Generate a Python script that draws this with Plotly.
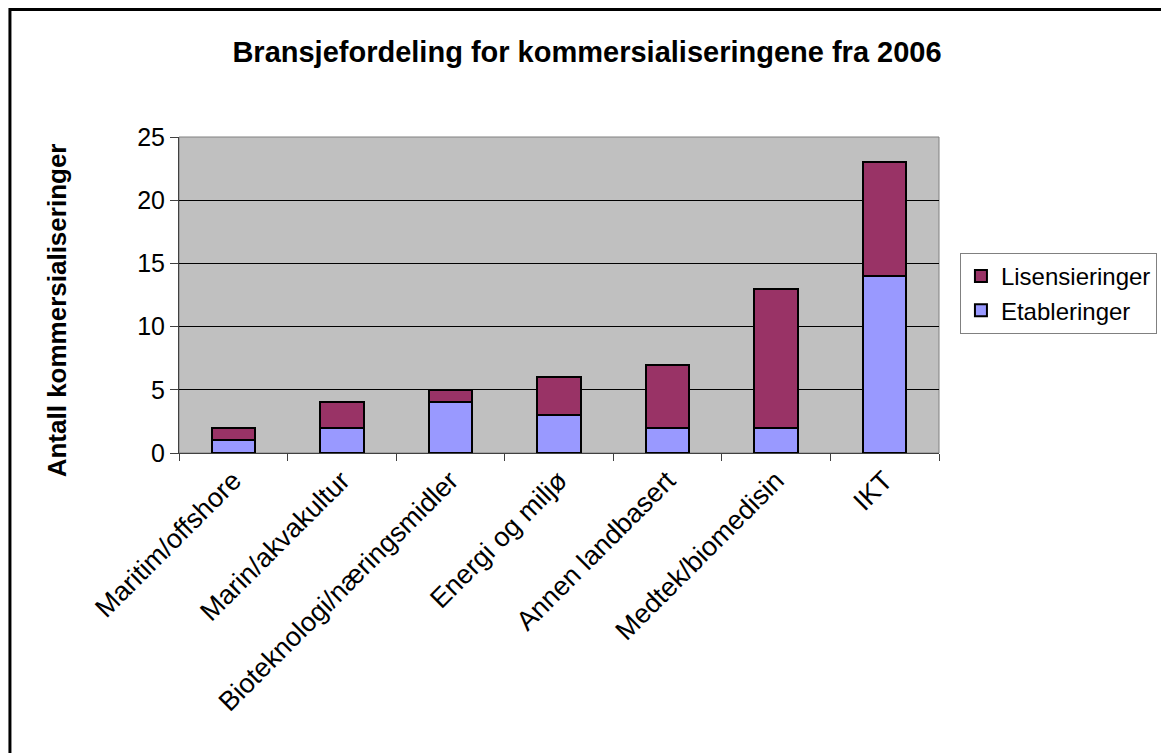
import plotly.graph_objects as go

categories = ["Maritim/offshore", "Marin/akvakultur", "Bioteknologi/næringsmidler",
              "Energi og miljø", "Annen landbasert", "Medtek/biomedisin", "IKT"]
etableringer = [1, 2, 4, 3, 2, 2, 14]
lisensieringer = [1, 2, 1, 3, 5, 11, 9]

FONT = "Liberation Sans, Arial, sans-serif"

# page body has an 8px margin, so the figure is a bit smaller than the window
W, H = 1161, 745
L, R, T, B = 171, 228, 129, 300
PW, PH = W - L - R, H - T - B


def px(x):
    return (x - L) / PW


def py(y):
    return (H - B - y) / PH


fig = go.Figure()
fig.add_trace(go.Bar(x=categories, y=etableringer, name="Etableringer", legendgroup="e",
                     marker=dict(color="#9999FF", line=dict(color="black", width=2))))
fig.add_trace(go.Bar(x=categories, y=lisensieringer, name="Lisensieringer", legendgroup="l",
                     marker=dict(color="#993366", line=dict(color="black", width=2))))

fig.update_layout(
    width=W, height=H,
    barmode="stack", bargap=0.6,
    paper_bgcolor="white", plot_bgcolor="#C0C0C0",
    margin=dict(l=L, r=R, t=T, b=B),
    font=dict(family=FONT, color="black", size=24),
    title=dict(text="<b>Bransjefordeling for kommersialiseringene fra 2006</b>",
               x=579 / W, xref="container", xanchor="center",
               y=1 - 44 / H, yref="container", yanchor="middle",
               font=dict(size=29, family=FONT)),
    legend=dict(x=px(954), y=py(245), xanchor="left", yanchor="top",
                traceorder="reversed", bgcolor="white", tracegroupgap=8,
                bordercolor="#808080", borderwidth=1,
                font=dict(size=24, family=FONT)),
    showlegend=True,
    shapes=[
        dict(type="rect", xref="x domain", yref="y domain", x0=0, x1=1, y0=0, y1=1,
             line=dict(color="#808080", width=1), layer="below"),
        dict(type="rect", xref="paper", yref="paper",
             x0=px(1.5), x1=px(1159), y0=py(770), y1=py(1.5),
             line=dict(color="black", width=3)),
    ],
    annotations=[
        dict(text="<b>Antall kommersialiseringer</b>", textangle=-90,
             xref="paper", yref="paper", x=px(49), y=py(302),
             xanchor="center", yanchor="middle", showarrow=False,
             font=dict(size=26, family=FONT)),
    ],
)

fig.update_xaxes(tickangle=-45, tickson="boundaries", ticks="outside", ticklen=7,
                 tickcolor="#404040", showline=True, linecolor="#404040", linewidth=1,
                 tickfont=dict(size=27, family=FONT))
fig.update_yaxes(range=[0, 25], dtick=5, ticks="outside", ticklen=8, tickcolor="#404040",
                 showline=True, linecolor="#404040", linewidth=1,
                 showgrid=True, gridcolor="black", gridwidth=1, zeroline=False,
                 tickfont=dict(size=25, family=FONT))

fig.write_html("out.html")
